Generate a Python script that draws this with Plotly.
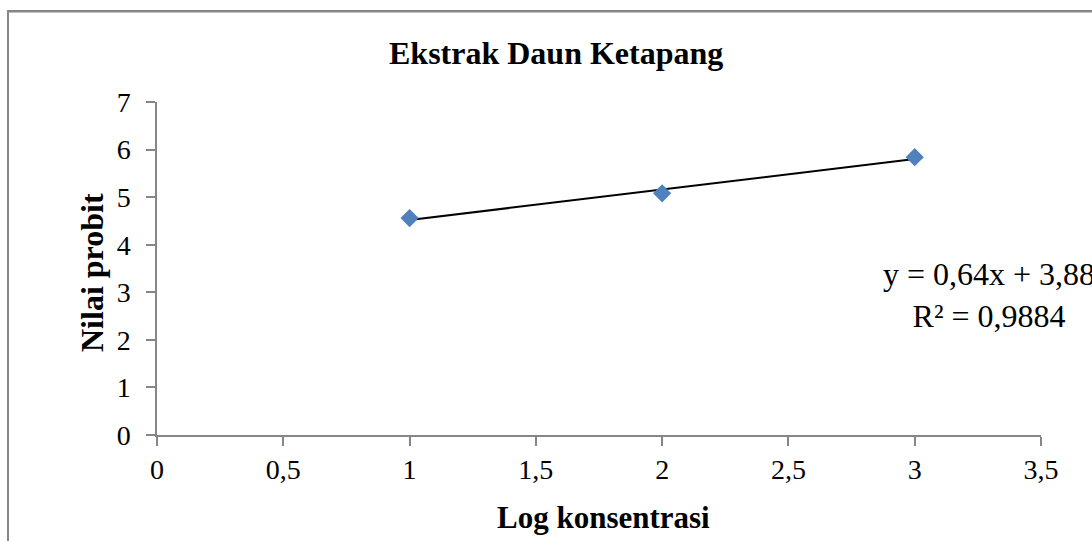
import numpy as np
import plotly.graph_objects as go

# Data
log_konsentrasi = [1, 2, 3]
nilai_probit = [4.56, 5.08, 5.84]
x_ticks = [0, 0.5, 1, 1.5, 2, 2.5, 3, 3.5]
y_ticks = [0, 1, 2, 3, 4, 5, 6, 7]
title_text = "Ekstrak Daun Ketapang"
x_title = "Log konsentrasi"
y_title = "Nilai probit"

# Linear trendline
slope, intercept = np.polyfit(log_konsentrasi, nilai_probit, 1)
pred = np.polyval([slope, intercept], log_konsentrasi)
ss_res = float(np.sum((np.array(nilai_probit) - pred) ** 2))
ss_tot = float(np.sum((np.array(nilai_probit) - np.mean(nilai_probit)) ** 2))
r2 = 1 - ss_res / ss_tot
eq_text = f"y = {slope:.2f}x + {intercept:.2f}".replace(".", ",")
r2_text = f"R² = {r2:.4f}".replace(".", ",")

FONT = "Liberation Serif"
GRAY = "#868686"

fig = go.Figure()
fig.add_trace(go.Scatter(
    x=[min(log_konsentrasi), max(log_konsentrasi)],
    y=list(np.polyval([slope, intercept], [min(log_konsentrasi), max(log_konsentrasi)])),
    mode="lines", line=dict(color="black", width=2), showlegend=False,
    hoverinfo="skip",
))
fig.add_trace(go.Scatter(
    x=log_konsentrasi, y=nilai_probit, mode="markers",
    marker=dict(symbol="diamond", size=14, color="#4F81BD", line=dict(width=0)),
    showlegend=False,
))

L, R, T, B = 157, 51, 102, 106
W, H = 1092, 541
pw, ph = W - L - R, H - T - B

def px(xp):
    return (xp - L) / pw

def py(yp):
    return (H - B - yp) / ph

fig.update_layout(
    width=W, height=H,
    margin=dict(l=L, r=R, t=T, b=B, pad=0),
    paper_bgcolor="white", plot_bgcolor="white",
    separators=",.",
    font=dict(family=FONT, size=28, color="black"),
    xaxis=dict(
        range=[0, 3.5], tickvals=x_ticks, showgrid=False, zeroline=False,
        showline=True, linecolor=GRAY, linewidth=1.5,
        ticks="outside", ticklen=9, tickcolor=GRAY, tickwidth=1.5,
        tickfont=dict(family=FONT, size=28, color="black"),
        fixedrange=True,
    ),
    yaxis=dict(
        range=[0, 7], tickvals=y_ticks, showgrid=False, zeroline=False,
        showline=True, linecolor=GRAY, linewidth=1.5,
        ticks="outside", ticklen=9, tickcolor=GRAY, tickwidth=1.5,
        ticklabelstandoff=10,
        tickfont=dict(family=FONT, size=28, color="black"),
        fixedrange=True,
    ),
    annotations=[
        dict(text=f"<b>{title_text}</b>", xref="paper", yref="paper",
             x=px(556), y=py(53), showarrow=False, xanchor="center", yanchor="middle",
             font=dict(family=FONT, size=32, color="black")),
        dict(text=f"<b>{x_title}</b>", xref="paper", yref="paper",
             x=px(603), y=py(517), showarrow=False, xanchor="center", yanchor="middle",
             font=dict(family=FONT, size=31, color="black")),
        dict(text=f"<b>{y_title}</b>", xref="paper", yref="paper",
             x=px(92), y=py(273), showarrow=False, xanchor="center", yanchor="middle",
             textangle=-90, font=dict(family=FONT, size=32, color="black")),
        dict(text=f"{eq_text}<br>{r2_text}", xref="paper", yref="paper",
             x=px(989), y=py(295), showarrow=False, xanchor="center", yanchor="middle",
             align="center", font=dict(family=FONT, size=32, color="black")),
    ],
    shapes=[
        dict(type="line", xref="paper", yref="paper", layer="above",
             x0=px(8), x1=px(8), y0=py(560), y1=py(11),
             line=dict(color=GRAY, width=1.5)),
        dict(type="line", xref="paper", yref="paper", layer="above",
             x0=px(8), x1=px(1092), y0=py(11.5), y1=py(11.5),
             line=dict(color=GRAY, width=2)),
    ],
)

border_js = (
    "document.body.style.margin='0';"
    "document.body.style.overflow='hidden';"
    "var b=document.createElement('div');"
    "b.style.cssText='position:absolute;left:7px;top:10px;width:2000px;height:2000px;"
    "border-top:2px solid #868686;border-left:2px solid #868686;pointer-events:none;';"
    "document.body.appendChild(b);"
)

fig.write_html(
    "out.html",
    config={"displayModeBar": False},
    post_script=border_js,
)
